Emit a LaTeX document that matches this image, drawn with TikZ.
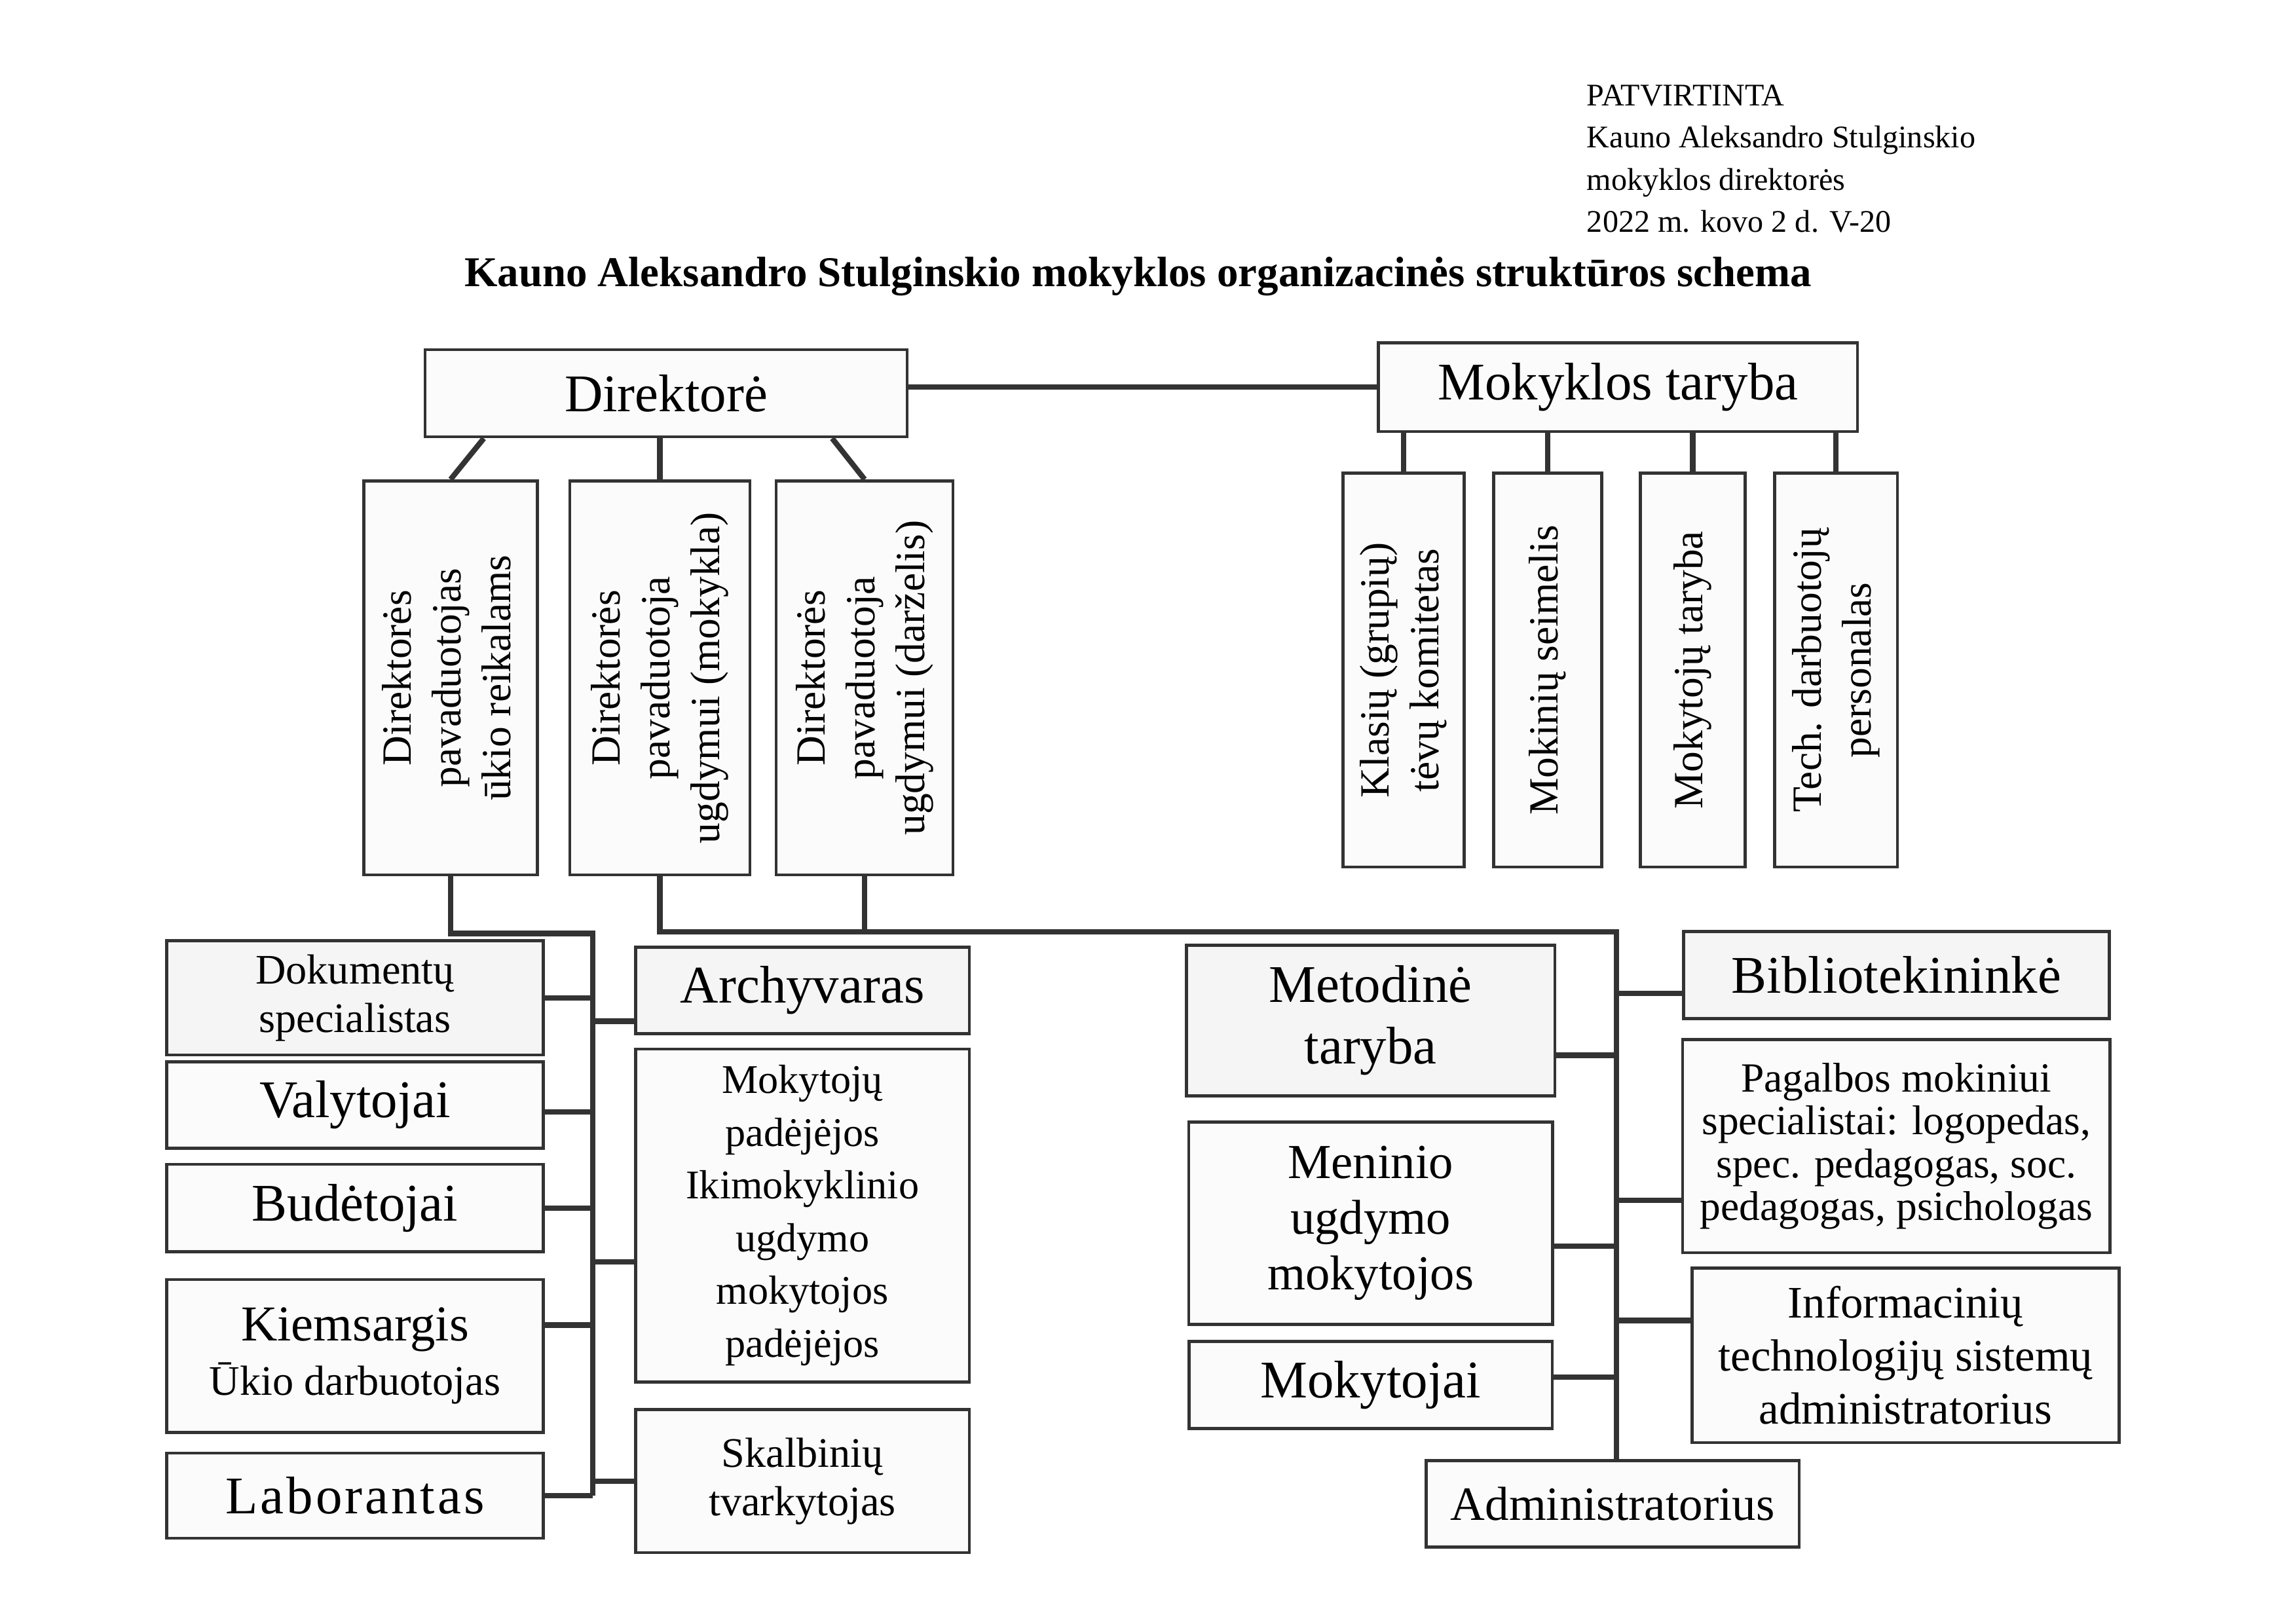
\documentclass[tikz,border=0pt]{standalone}
\usepackage{fontspec}
\setmainfont{Liberation Serif}
\usepackage{graphicx}
\usepackage{tikz}
\usetikzlibrary{positioning,calc}

% font sizes
\newcommand{\szhead}{\fontsize{11.6}{15.5}\selectfont}
\newcommand{\sztitle}{\fontsize{15.65}{18}\selectfont\bfseries}
\newcommand{\szbig}{\fontsize{19.5}{22.6}\selectfont}
\newcommand{\szmid}{\fontsize{18}{20.5}\selectfont}
\newcommand{\szsmall}{\fontsize{15.5}{17.8}\selectfont}
\newcommand{\szvert}{\fontsize{15.3}{18.3}\selectfont}
% rotated text for the tall boxes
\newcommand{\vtxt}[1]{\rotatebox{90}{\begin{tabular}{@{}c@{}}#1\end{tabular}}}

\begin{document}
\begin{tikzpicture}[
    box/.style={draw=black!80, line width=1.1pt, fill=gray!3, align=center, inner sep=2pt, font=\szbig},
    shaded/.style={box, fill=gray!8},
    vbox/.style={box, minimum height=5.1cm, font=\szvert},
    lbox/.style={box, minimum width=4.87cm},
    mbox/.style={box, minimum width=4.32cm},
    link/.style={draw=black!80, line width=2pt},
]
\useasboundingbox (0,0) rectangle (29.7,-21.012);

% Header
\node[anchor=north west, align=left, font=\szhead, inner sep=0pt] (appr) at (20.53,-1.093)
    {PATVIRTINTA\\Kauno Aleksandro Stulginskio\\mokyklos direktorės\\2022 m. kovo 2 d. V-20};
\node[anchor=base, font=\sztitle, inner sep=0pt] (title) at (14.727,-3.712)
    {Kauno Aleksandro Stulginskio mokyklos organizacinės struktūros schema};

% Top: Direktore and Mokyklos taryba
\node[box, minimum width=6.24cm, minimum height=1.13cm] (dir) at (8.62,-5.09) {Direktorė};
\node[box, minimum width=6.20cm, minimum height=1.15cm, right=6.06cm of dir, yshift=0.08cm] (mt) {Mokyklos taryba};

% Deputies
\node[vbox, minimum width=2.33cm, below=0.53cm of dir, xshift=-0.08cm] (v2)
    {\vtxt{Direktorės\\pavaduotoja\\ugdymui (mokykla)}};
\node[vbox, minimum width=2.25cm, left=0.38cm of v2] (v1)
    {\vtxt{Direktorės\\pavaduotojas\\ūkio reikalams}};
\node[vbox, minimum width=2.29cm, right=0.3cm of v2] (v3)
    {\vtxt{Direktorės\\pavaduotoja\\ugdymui (darželis)}};

% Self-government bodies
\node[vbox, minimum width=1.57cm, below=0.5cm of mt.south west, anchor=north west, xshift=-0.46cm] (k1)
    {\vtxt{Klasių (grupių)\\tėvų komitetas}};
\node[vbox, minimum width=1.40cm, right=0.34cm of k1] (k2) {\vtxt{Mokinių seimelis}};
\node[vbox, minimum width=1.36cm, right=0.46cm of k2] (k3) {\vtxt{Mokytojų taryba}};
\node[vbox, minimum width=1.59cm, right=0.34cm of k3] (k4)
    {\vtxt{Tech. darbuotojų\\personalas}};

% Bottom left: staff of the deputy for economy
\node[lbox, shaded, minimum height=1.48cm, font=\szsmall, anchor=north west] (dok) at (2.14,-12.155)
    {Dokumentų\\specialistas};
\node[lbox, minimum height=1.12cm, below=0.05cm of dok] (val) {Valytojai};
\node[lbox, minimum height=1.13cm, below=0.17cm of val] (bud) {Budėtojai};
\node[lbox, minimum height=1.98cm, below=0.32cm of bud, font=\fontsize{18.5}{20}\selectfont] (kiem)
    {Kiemsargis\\\fontsize{15.5}{20}\selectfont Ūkio darbuotojas};
\node[lbox, minimum height=1.10cm, below=0.23cm of kiem] (lab) {\addfontfeature{LetterSpace=5}Laborantas};

\node[mbox, shaded, minimum height=1.12cm, anchor=north west] (arch) at (8.205,-12.239) {Archyvaras};
\node[mbox, minimum height=4.31cm, below=0.16cm of arch, font=\fontsize{15}{19.4}\selectfont] (mokp)
    {Mokytojų\\padėjėjos\\Ikimokyklinio\\ugdymo\\mokytojos\\padėjėjos};
\node[mbox, minimum height=1.85cm, below=0.32cm of mokp, font=\szsmall] (skal) {Skalbinių\\tvarkytojas};

% Bottom right: education staff
\node[box, shaded, minimum width=4.77cm, minimum height=1.95cm, anchor=north west] (met) at (15.333,-12.214)
    {Metodinė\\taryba};
\node[box, minimum width=4.71cm, minimum height=2.62cm, below=0.3cm of met, font=\szmid] (men)
    {Meninio\\ugdymo\\mokytojos};
\node[box, minimum width=4.70cm, minimum height=1.13cm, below=0.18cm of men] (mokt) {Mokytojai};
\node[box, minimum width=4.83cm, minimum height=1.12cm, anchor=north west, font=\fontsize{17.6}{20}\selectfont] (adm)
    at (18.435,-18.885) {Administratorius};

\node[box, shaded, minimum width=5.51cm, minimum height=1.13cm, anchor=north west] (bib) at (21.766,-12.036)
    {Bibliotekininkė};
\node[box, minimum width=5.53cm, minimum height=2.76cm, below=0.23cm of bib, font=\fontsize{15.3}{15.8}\selectfont] (pag)
    {Pagalbos mokiniui\\specialistai: logopedas,\\spec. pedagogas, soc.\\pedagogas, psichologas};
\node[box, minimum width=5.53cm, minimum height=2.26cm, below=0.16cm of pag, xshift=0.12cm, font=\fontsize{16.6}{19.6}\selectfont] (inf)
    {Informacinių\\technologijų sistemų\\administratorius};

% Top connectors
\draw[link] (mt.west) -- (mt.west -| dir.east);
\draw[link] (v1.north) -- ([xshift=0.78cm]dir.south west);
\draw[link] (v2.north) -- (v2.north |- dir.south);
\draw[link] (v3.north) -- ([xshift=-0.99cm]dir.south east);
\foreach \k in {k1,k2,k3,k4}
    \draw[link] (\k.north) -- (\k.north |- mt.south);

% Left tree
\coordinate (ltrunk) at ($(dok.east)+(0.62,0)$);
\coordinate (lbus) at ($(v1.south)+(0,-0.74)$);
\draw[link] (v1.south) |- (ltrunk |- lbus) -- (ltrunk |- lab.east);
\foreach \n/\dy in {dok/0, val/-0.09, bud/0, kiem/0.4, lab/0}
    \draw[link] ([yshift=\dy cm]\n.east) -- ([yshift=\dy cm]\n.east -| ltrunk);
\foreach \n/\dy in {arch/-0.4, mokp/-0.6, skal/0}
    \draw[link] ([yshift=\dy cm]\n.west) -- ([yshift=\dy cm]\n.west -| ltrunk);

% Right tree
\coordinate (rbus) at ($(v2.south)+(0,-0.72)$);
\coordinate (rtrunk) at ($(adm.north)+(0.05,0)$);
\draw[link] (v2.south) -- (rbus) -| (rtrunk);
\draw[link] (v3.south) -- (v3.south |- rbus);
\foreach \n/\dy in {met/-0.45, men/-0.3, mokt/0.1}
    \draw[link] ([yshift=\dy cm]\n.east) -- ([yshift=\dy cm]\n.east -| rtrunk);
\foreach \n/\dy in {bib/-0.24, pag/-0.7, inf/0.45}
    \draw[link] ([yshift=\dy cm]\n.west) -- ([yshift=\dy cm]\n.west -| rtrunk);
\end{tikzpicture}
\end{document}
